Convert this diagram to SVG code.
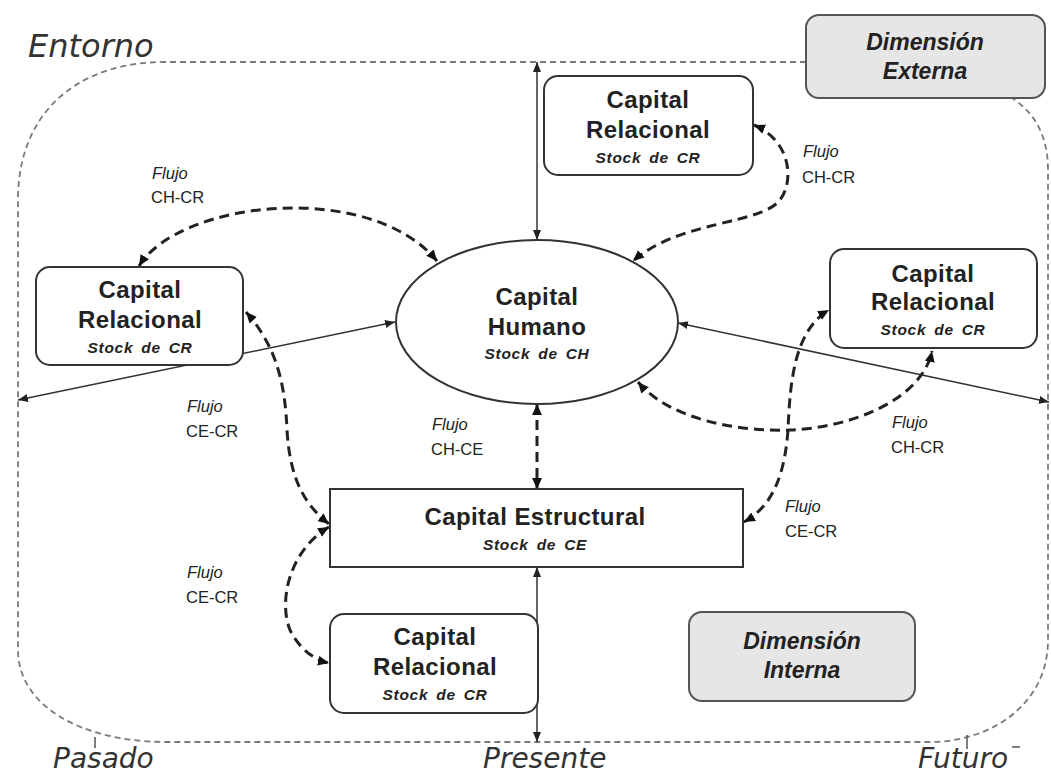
<svg xmlns="http://www.w3.org/2000/svg" width="1051" height="776" viewBox="0 0 1051 776">
<style>
.bd{fill:none;stroke:#7a7a7a;stroke-width:1.8;stroke-dasharray:6 4}
.tm{fill:none;stroke:#555;stroke-width:1.5}
.big{font-family:"DejaVu Sans",sans-serif;font-style:italic;fill:#333}
.sl{fill:none;stroke:#333;stroke-width:1.5;marker-start:url(#as);marker-end:url(#as)}
.dl{fill:none;stroke:#222;stroke-width:3;stroke-dasharray:10 6;marker-start:url(#ad);marker-end:url(#ad)}
.box{fill:#fff;stroke:#333;stroke-width:2}
.gbox{fill:#e6e6e6;stroke:#555;stroke-width:2}
.t1{font-family:"Liberation Sans",Arial,sans-serif;font-weight:bold;font-size:24px;fill:#222;text-anchor:middle;letter-spacing:0.4px}
.t2{font-family:"Liberation Sans",Arial,sans-serif;font-weight:bold;font-style:italic;font-size:15.5px;fill:#222;text-anchor:middle;letter-spacing:0.7px;word-spacing:3px}
.gd{font-family:"Liberation Sans",Arial,sans-serif;font-weight:bold;font-style:italic;font-size:23px;fill:#222;text-anchor:middle}
.fl{font-family:"Liberation Sans",Arial,sans-serif;font-size:16.5px;fill:#222}
.fi{font-style:italic}
</style>
<defs>
<marker id="as" viewBox="0 0 10 8" refX="10" refY="4" markerWidth="10" markerHeight="8" markerUnits="userSpaceOnUse" orient="auto-start-reverse"><path d="M0,0 L10,4 L0,8 z" fill="#222"/></marker>
<marker id="ad" viewBox="0 0 10 9" refX="10" refY="4.5" markerWidth="11" markerHeight="10" markerUnits="userSpaceOnUse" orient="auto-start-reverse"><path d="M0,0 L10,4.5 L0,9 z" fill="#111"/></marker>
</defs>
<g id="environment">
<path class="bd" d="M806,62 L165,62 C80,62 18,110 18,200 L18,650 C18,705 80,742 167,742 L930,742 C990,742 1048,705 1048,640 L1048,170 C1048,130 1030,110 1012,98"/>
<line class="tm" x1="95" y1="737" x2="95" y2="748"/>
<line class="tm" x1="967" y1="735" x2="967" y2="749"/>
<line class="tm" x1="1012" y1="747" x2="1020" y2="747"/>
<text class="big" x="28" y="57" font-size="32">Entorno</text>
<text class="big" x="53" y="768" font-size="28">Pasado</text>
<text class="big" x="483" y="768" font-size="28">Presente</text>
<text class="big" x="918" y="768" font-size="28">Futuro</text>
</g>
<g id="connectors">
<line class="sl" x1="537" y1="62" x2="537" y2="240"/>
<line class="sl" x1="18" y1="400" x2="395" y2="322"/>
<line class="sl" x1="678" y1="323" x2="1049" y2="402"/>
<line class="sl" x1="537" y1="567" x2="537" y2="742"/>
<path class="dl" d="M139,266 C180,200 370,180 437,261"/>
<path class="dl" d="M754,125 C790,140 795,180 780,200 C760,225 680,220 633,261"/>
<path class="dl" d="M638,382 C670,420 740,432 790,430 C850,428 922,400 932,351"/>
<line class="dl" x1="537" y1="404" x2="537" y2="489"/>
<path class="dl" d="M246,312 C275,345 285,380 287,430 C290,480 305,505 329,524"/>
<path class="dl" d="M329,527 C290,550 278,600 290,630 C300,650 315,660 329,663"/>
<path class="dl" d="M744,522 C775,505 785,470 788,430 C790,380 795,330 829,310"/>
<text class="fl" x="152" y="179"><tspan class="fi">Flujo</tspan><tspan x="151" y="203">CH-CR</tspan></text>
<text class="fl" x="803" y="157"><tspan class="fi">Flujo</tspan><tspan x="802" y="183">CH-CR</tspan></text>
<text class="fl" x="187" y="412"><tspan class="fi">Flujo</tspan><tspan x="186" y="437">CE-CR</tspan></text>
<text class="fl" x="432" y="430"><tspan class="fi">Flujo</tspan><tspan x="431" y="455">CH-CE</tspan></text>
<text class="fl" x="892" y="428"><tspan class="fi">Flujo</tspan><tspan x="891" y="453">CH-CR</tspan></text>
<text class="fl" x="785" y="512"><tspan class="fi">Flujo</tspan><tspan x="785" y="537">CE-CR</tspan></text>
<text class="fl" x="187" y="578"><tspan class="fi">Flujo</tspan><tspan x="186" y="603">CE-CR</tspan></text>
</g>
<g id="dim-externa">
<rect class="gbox" x="806" y="15" width="239" height="83" rx="13"/>
<text class="gd" x="925" y="50">Dimensión</text>
<text class="gd" x="925" y="79">Externa</text>
</g>
<g id="dim-interna">
<rect class="gbox" x="689" y="612" width="226" height="89" rx="13"/>
<text class="gd" x="802" y="649">Dimensión</text>
<text class="gd" x="802" y="678">Interna</text>
</g>
<g id="cr-top">
<rect class="box" x="544" y="76" width="209" height="99" rx="14"/>
<text class="t1" x="648" y="108">Capital</text>
<text class="t1" x="648" y="138">Relacional</text>
<text class="t2" x="648" y="163">Stock de CR</text>
</g>
<g id="cr-left">
<rect class="box" x="36" y="267" width="207" height="98" rx="14"/>
<text class="t1" x="140" y="298">Capital</text>
<text class="t1" x="140" y="328">Relacional</text>
<text class="t2" x="140" y="353">Stock de CR</text>
</g>
<g id="cr-right">
<rect class="box" x="830" y="249" width="207" height="99" rx="14"/>
<text class="t1" x="933" y="282">Capital</text>
<text class="t1" x="933" y="310">Relacional</text>
<text class="t2" x="933" y="335">Stock de CR</text>
</g>
<g id="capital-humano">
<ellipse class="box" cx="537" cy="322" rx="141" ry="82"/>
<text class="t1" x="537" y="305">Capital</text>
<text class="t1" x="537" y="335">Humano</text>
<text class="t2" x="537" y="359">Stock de CH</text>
</g>
<g id="capital-estructural">
<rect class="box" x="330" y="489" width="413" height="78"/>
<text class="t1" x="535" y="525">Capital Estructural</text>
<text class="t2" x="535" y="550">Stock de CE</text>
</g>
<g id="cr-bottom">
<rect class="box" x="330" y="614" width="208" height="99" rx="14"/>
<text class="t1" x="435" y="645">Capital</text>
<text class="t1" x="435" y="675">Relacional</text>
<text class="t2" x="435" y="700">Stock de CR</text>
</g>
</svg>
